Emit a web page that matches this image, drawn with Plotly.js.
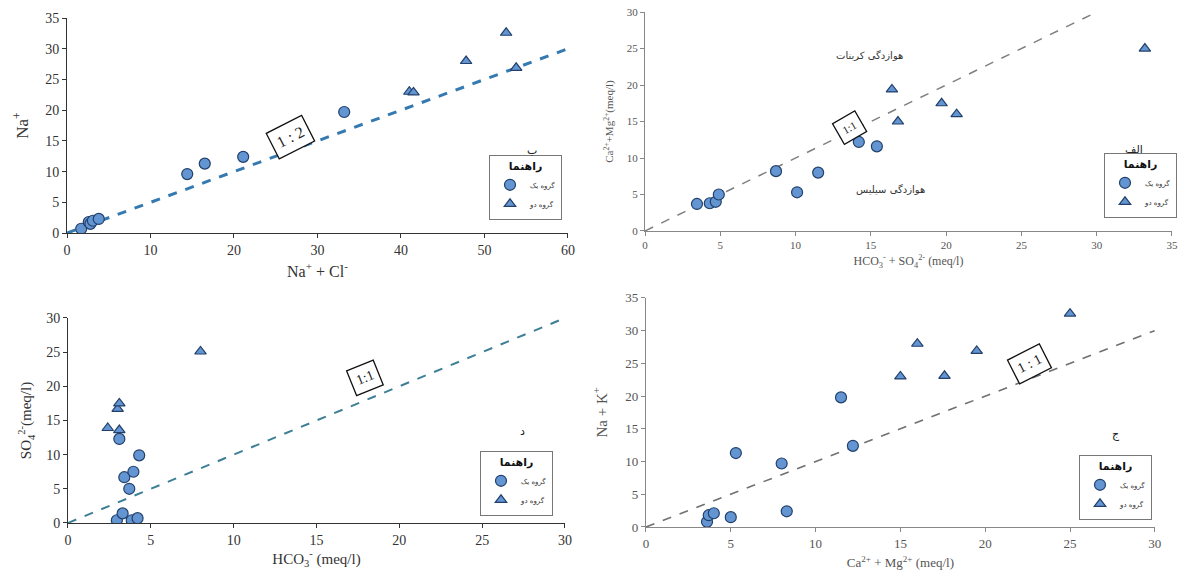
<!DOCTYPE html>
<html><head><meta charset="utf-8">
<script src="https://cdn.plot.ly/plotly-3.0.1.min.js"></script>
<style>html,body{margin:0;padding:0;background:#fff}#chart{width:1182px;height:574px}</style>
</head><body><div id="chart"></div>
<script>
// Panel B (top-left): Na+ vs Na+ + Cl-
const b_g1_x = [1.7, 2.6, 2.8, 3.1, 3.8, 14.4, 16.5, 21.1, 33.2];
const b_g1_y = [0.7, 1.8, 1.5, 2.0, 2.3, 9.6, 11.3, 12.4, 19.7];
const b_g2_x = [41.0, 41.5, 47.8, 52.6, 53.8];
const b_g2_y = [23.0, 22.9, 28.0, 32.6, 26.9];
const b_line_x = [0, 60];
const b_line_y = [0, 30];

// Panel A (top-right): Ca+Mg vs HCO3+SO4
const a_g1_x = [3.45, 4.3, 4.7, 4.9, 8.7, 10.1, 11.5, 14.2, 15.4];
const a_g1_y = [3.7, 3.8, 4.0, 5.0, 8.2, 5.3, 8.0, 12.2, 11.6];
const a_g2_x = [16.4, 16.8, 19.7, 20.7, 33.2];
const a_g2_y = [19.4, 15.0, 17.5, 16.0, 25.0];
const a_line_x = [0, 30];
const a_line_y = [0, 30];

// Panel D (bottom-left): SO4 vs HCO3
const d_g1_x = [2.95, 3.3, 3.85, 4.2, 3.7, 3.4, 3.95, 4.3, 3.1];
const d_g1_y = [0.4, 1.4, 0.4, 0.7, 5.0, 6.7, 7.5, 9.9, 12.3];
const d_g2_x = [2.4, 3.1, 3.0, 3.1, 8.0];
const d_g2_y = [13.9, 13.6, 16.7, 17.5, 25.1];
const d_line_x = [0, 30];
const d_line_y = [0, 30];

// Panel J (bottom-right): Na+K vs Ca+Mg
const j_g1_x = [3.6, 3.7, 4.0, 5.0, 5.3, 8.0, 8.3, 11.5, 12.2];
const j_g1_y = [0.8, 1.8, 2.1, 1.5, 11.3, 9.7, 2.4, 19.8, 12.4];
const j_g2_x = [15.0, 16.0, 17.6, 19.5, 25.0];
const j_g2_y = [23.0, 28.0, 23.1, 26.9, 32.6];
const j_line_x = [0, 30];
const j_line_y = [0, 30];

const group1Name = 'گروه یک';
const group2Name = 'گروه دو';
const legendTitle = 'راهنما';

const fill = '#6395d2';
const edge = '#22406a';
const serif = 'Liberation Serif, DejaVu Serif, serif';
const arab = 'DejaVu Sans, Noto Sans, sans-serif';

function pts(x, y, xa, ya, sym, name, leg) {
  return {x: x, y: y, xaxis: xa, yaxis: ya, type: 'scatter', mode: 'markers', name: name,
    legend: leg, marker: {symbol: sym, size: sym === 'circle' ? 11 : 10, color: fill, line: {color: edge, width: 1.2}}};
}
function line(x, y, xa, ya, color, width, dash) {
  return {x: x, y: y, xaxis: xa, yaxis: ya, type: 'scatter', mode: 'lines', showlegend: false,
    hoverinfo: 'skip', line: {color: color, width: width, dash: dash}};
}

const data = [
  line(b_line_x, b_line_y, 'x', 'y', '#3479b0', 3, 'dash'),
  pts(b_g1_x, b_g1_y, 'x', 'y', 'circle', group1Name, 'legend'),
  pts(b_g2_x, b_g2_y, 'x', 'y', 'triangle-up', group2Name, 'legend'),
  line(a_line_x, a_line_y, 'x2', 'y2', '#808080', 1.5, 'dash'),
  pts(a_g1_x, a_g1_y, 'x2', 'y2', 'circle', group1Name, 'legend2'),
  pts(a_g2_x, a_g2_y, 'x2', 'y2', 'triangle-up', group2Name, 'legend2'),
  line(d_line_x, d_line_y, 'x3', 'y3', '#3e7f96', 2, 'dash'),
  pts(d_g1_x, d_g1_y, 'x3', 'y3', 'circle', group1Name, 'legend3'),
  pts(d_g2_x, d_g2_y, 'x3', 'y3', 'triangle-up', group2Name, 'legend3'),
  line(j_line_x, j_line_y, 'x4', 'y4', '#707070', 1.6, 'dash'),
  pts(j_g1_x, j_g1_y, 'x4', 'y4', 'circle', group1Name, 'legend4'),
  pts(j_g2_x, j_g2_y, 'x4', 'y4', 'triangle-up', group2Name, 'legend4')
];

function ax(domain, range, dtick, anchor, lc, fs, fc, title, tfs, standoff) {
  return {domain: domain, range: range, dtick: dtick, tick0: 0, anchor: anchor, showgrid: false,
    zeroline: false, showline: true, linecolor: lc, linewidth: 1, ticks: 'outside', ticklen: 4,
    tickcolor: lc, tickfont: {family: serif, size: fs, color: fc},
    title: {text: title, font: {family: serif, size: tfs, color: fc}, standoff: standoff}};
}

function leg(x, y) {
  return {x: x, y: y, xref: 'paper', yref: 'paper', xanchor: 'right', yanchor: 'top',
    bordercolor: '#777', borderwidth: 1, bgcolor: '#fff',
    font: {family: arab, size: 7, color: '#333'},
    title: {text: '<b>' + legendTitle + '</b>', side: 'top center', font: {family: arab, size: 11, color: '#111'}},
    itemwidth: 30, tracegroupgap: 2};
}

function ratio(text, x, y, xr, yr, angle, fs) {
  return {text: text, x: x, y: y, xref: xr, yref: yr, showarrow: false, textangle: angle,
    font: {family: serif, size: fs, color: '#222'}, bordercolor: '#111', borderwidth: 1.3,
    borderpad: 5, bgcolor: '#fff'};
}
function lab(text, x, y, fs) {
  return {text: text, x: x, y: y, xref: 'paper', yref: 'paper', showarrow: false,
    font: {family: arab, size: fs, color: '#222'}};
}

const layout = {
  width: 1182, height: 574, margin: {l: 0, r: 0, t: 0, b: 0},
  paper_bgcolor: '#fff', plot_bgcolor: '#fff', showlegend: true,
  xaxis: ax([0.0567, 0.4805], [0, 60], 10, 'y', '#333', 14, '#333', 'Na<sup>+</sup> + Cl<sup>-</sup>', 16, 8),
  yaxis: ax([0.594, 0.9686], [0, 35], 5, 'x', '#333', 14, '#333', 'Na<sup>+</sup>', 17, 12),
  xaxis2: ax([0.5457, 0.9915], [0, 35], 5, 'y2', '#888', 11, '#555', 'HCO<sub>3</sub><sup>-</sup> + SO<sub>4</sub><sup>2-</sup> (meq/l)', 12, 6),
  yaxis2: ax([0.5976, 0.979], [0, 30], 5, 'x2', '#888', 11, '#555', 'Ca<sup>2+</sup>+Mg<sup>2+</sup>(meq/l)', 11, 10),
  xaxis3: ax([0.0575, 0.478], [0, 30], 5, 'y3', '#333', 14, '#333', 'HCO<sub>3</sub><sup>-</sup> (meq/l)', 15, 6),
  yaxis3: ax([0.0889, 0.446], [0, 30], 5, 'x3', '#333', 14, '#333', 'SO<sub>4</sub><sup>2-</sup>(meq/l)', 15, 10),
  xaxis4: ax([0.5465, 0.977], [0, 30], 5, 'y4', '#888', 13, '#555', 'Ca<sup>2+</sup> + Mg<sup>2+</sup> (meq/l)', 13, 8),
  yaxis4: ax([0.0819, 0.481], [0, 35], 5, 'x4', '#888', 13, '#555', 'Na + K<sup>+</sup>', 15, 14),
  legend: leg(562 / 1182, (574 - 155) / 574),
  legend2: leg(1177 / 1182, (574 - 153) / 574),
  legend3: leg(553 / 1182, (574 - 451) / 574),
  legend4: leg(1152 / 1182, (574 - 455) / 574),
  annotations: [
    ratio('1 : 2', 26.8, 15.6, 'x', 'y', -27, 16),
    ratio('1:1', 13.6, 14.2, 'x2', 'y2', -30, 11),
    ratio('1:1', 17.9, 21.2, 'x3', 'y3', -22, 14),
    ratio('1 : 1', 22.6, 24.9, 'x4', 'y4', -27, 14),
    {text: 'هوازدگی کربنات', x: 14.9, y: 24, xref: 'x2', yref: 'y2', showarrow: false, font: {family: arab, size: 10, color: '#333'}},
    {text: 'هوازدگی سیلیس', x: 16.3, y: 5.75, xref: 'x2', yref: 'y2', showarrow: false, font: {family: arab, size: 10, color: '#333'}},
    lab('ب', 532 / 1182, (574 - 142) / 574, 11),
    lab('الف', 1145 / 1182, (574 - 141) / 574, 11),
    lab('د', 522 / 1182, (574 - 440) / 574, 11),
    lab('ج', 1122 / 1182, (574 - 443) / 574, 11)
  ]
};

Plotly.newPlot('chart', data, layout, {displayModeBar: false, staticPlot: true});
</script></body></html>
